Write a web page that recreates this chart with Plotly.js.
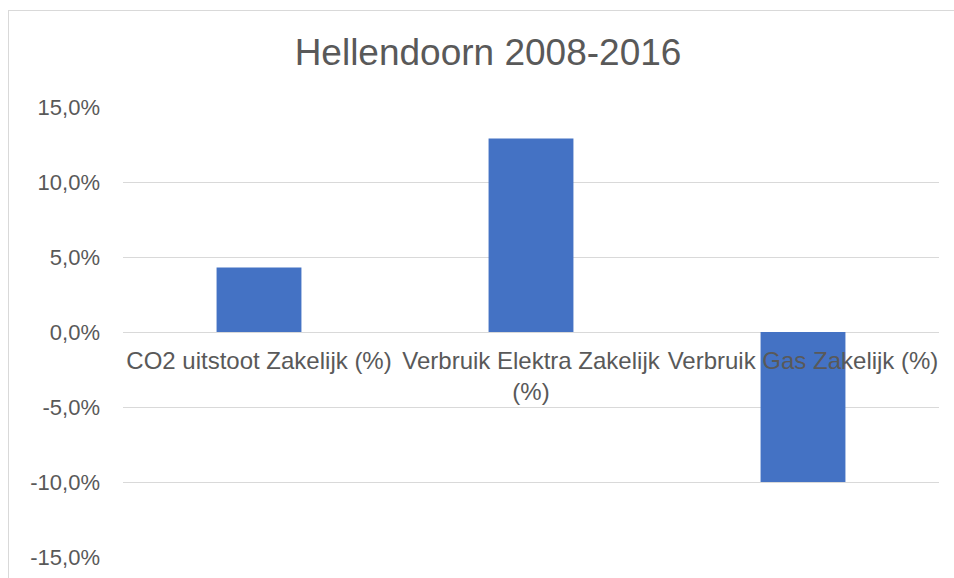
<!DOCTYPE html>
<html>
<head>
<meta charset="utf-8">
<script src="https://cdn.plot.ly/plotly-3.0.1.min.js"></script>
<style>
  html, body { margin: 0; padding: 0; overflow: hidden; background: #fff; }
  #chart { width: 954px; height: 578px; }
  #frame { position: absolute; left: 8px; top: 10px; width: 1200px; height: 1200px;
           border: 1px solid #d9d9d9; pointer-events: none; }
</style>
</head>
<body>
<div id="chart"></div>
<div id="frame"></div>
<script>
const chartTitle = "Hellendoorn 2008-2016";
const categories = ["CO2 uitstoot Zakelijk (%)", "Verbruik Elektra Zakelijk (%)", "Verbruik Gas Zakelijk (%)"];
const tickLabels = ["CO2 uitstoot Zakelijk (%)", "Verbruik Elektra Zakelijk<br>(%)", "Verbruik Gas Zakelijk (%)"];
const values = [0.043, 0.129, -0.100];
const yTicks = [-0.15, -0.10, -0.05, 0, 0.05, 0.10, 0.15];
const yTickLabels = ["-15,0%", "-10,0%", "-5,0%", "0,0%", "5,0%", "10,0%", "15,0%"];

const FONT = '"Liberation Sans", Arial, sans-serif';
const TXT = '#595959';

const trace = {
  type: 'bar',
  x: categories,
  y: values,
  marker: { color: '#4472C4', line: { width: 0 } },
  hoverinfo: 'x+y'
};

const layout = {
  width: 954, height: 578,
  margin: { l: 123, r: 14.5, t: 106.7, b: 21.3, pad: 0 },
  paper_bgcolor: '#ffffff', plot_bgcolor: '#ffffff',
  separators: ',.',
  font: { family: FONT, color: TXT },
  title: {
    text: chartTitle,
    font: { family: FONT, size: 37, color: TXT },
    x: 488 / 954, xref: 'container', xanchor: 'center',
    y: 1 - 52 / 578, yref: 'container', yanchor: 'middle'
  },
  bargap: 0.688,
  showlegend: false,
  xaxis: {
    type: 'category',
    anchor: 'free',
    position: 0.5,
    tickmode: 'array',
    tickvals: categories,
    ticktext: tickLabels,
    showgrid: false,
    showline: false,
    zeroline: false,
    ticks: '',
    tickfont: { family: FONT, size: 24, color: TXT },
    ticklabelstandoff: 12
  },
  yaxis: {
    range: [-0.15, 0.15],
    tickmode: 'array',
    tickvals: yTicks,
    ticktext: yTickLabels,
    showgrid: true,
    gridcolor: '#d9d9d9',
    gridwidth: 1,
    zeroline: true,
    zerolinecolor: '#d9d9d9',
    zerolinewidth: 1,
    showline: false,
    ticks: '',
    ticklabelstandoff: 22,
    tickfont: { family: FONT, size: 22, color: TXT }
  }
};

Plotly.newPlot('chart', [trace], layout, { displayModeBar: false, staticPlot: true });
</script>
</body>
</html>
